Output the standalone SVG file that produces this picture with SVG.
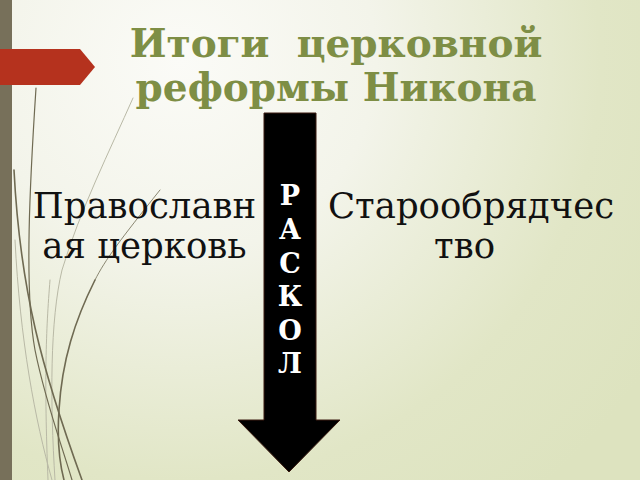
<svg xmlns="http://www.w3.org/2000/svg" width="640" height="480" viewBox="0 0 640 480">
  <defs>
    <radialGradient id="bg" cx="180" cy="60" r="560" gradientUnits="userSpaceOnUse">
      <stop offset="0" stop-color="#fbfbf7"/>
      <stop offset="0.35" stop-color="#f3f4ea"/>
      <stop offset="0.75" stop-color="#e1e6c6"/>
      <stop offset="1" stop-color="#dde3bf"/>
    </radialGradient>
    <style>
      .title { font-family: "DejaVu Serif", "Liberation Serif", serif; font-weight: bold; font-size: 39px; fill: #7e8e45; text-anchor: middle; white-space: pre; }
      .lbl { font-family: "DejaVu Serif", "Liberation Serif", serif; font-size: 35.5px; fill: #111; text-anchor: middle; }
      .let { font-family: "DejaVu Serif", "Liberation Serif", serif; font-weight: bold; font-size: 27px; fill: #fff; text-anchor: middle; }
      .wisp { fill: none; stroke: #6f6a52; stroke-linecap: round; }
      .wispl { fill: none; stroke: #b9b9a6; stroke-linecap: round; }
    </style>
  </defs>
  <rect x="0" y="0" width="640" height="480" fill="url(#bg)"/>
  <g id="decor">
    <rect x="0" y="0" width="12" height="480" fill="#77705a"/>
    <path class="wispl" stroke-width="1" d="M133,98 C110,150 80,210 62,270 C50,320 50,400 55,480"/>
    <path class="wispl" stroke-width="1" d="M15,240 C20,340 35,420 52,480"/>
    <path class="wispl" stroke-width="1" d="M50,280 C46,330 44,380 48,480"/>
    <path class="wisp" stroke-width="1.2" d="M36,88 C30,180 24,290 35,350 C45,400 60,440 72,480"/>
    <path class="wisp" stroke-width="1.6" d="M14,170 C20,290 42,370 82,480"/>
    <path class="wisp" stroke-width="0.8" d="M160,190 C120,240 105,260 95,280"/>
    <path class="wisp" stroke-width="1.6" d="M95,280 C75,320 62,360 59,410 C57,440 60,465 64,480"/>
    <polygon points="0,49 80,49 95,67 80,85 0,85" fill="#b5321e"/>
  </g>
  <g id="title">
    <text class="title" x="336" y="57">Итоги  церковной</text>
    <text class="title" x="336" y="101">реформы Никона</text>
  </g>
  <g id="connectors">
    <polygon points="264,113 316,113 316,420 340,420 289,472 238,420 264,420" fill="#000" stroke="#3a1a10" stroke-width="1"/>
  </g>
  <g id="raskol">
    <text class="let" x="290" y="205">Р</text>
    <text class="let" x="290" y="239">А</text>
    <text class="let" x="290" y="273">С</text>
    <text class="let" x="290" y="306">К</text>
    <text class="let" x="290" y="340">О</text>
    <text class="let" x="290" y="373">Л</text>
  </g>
  <g id="orthodox">
    <text class="lbl" x="144.5" y="218">Православн</text>
    <text class="lbl" x="144.5" y="258">ая церковь</text>
  </g>
  <g id="oldbelievers">
    <text class="lbl" x="471" y="218">Старообрядчес</text>
    <text class="lbl" x="464.5" y="258">тво</text>
  </g>
</svg>
